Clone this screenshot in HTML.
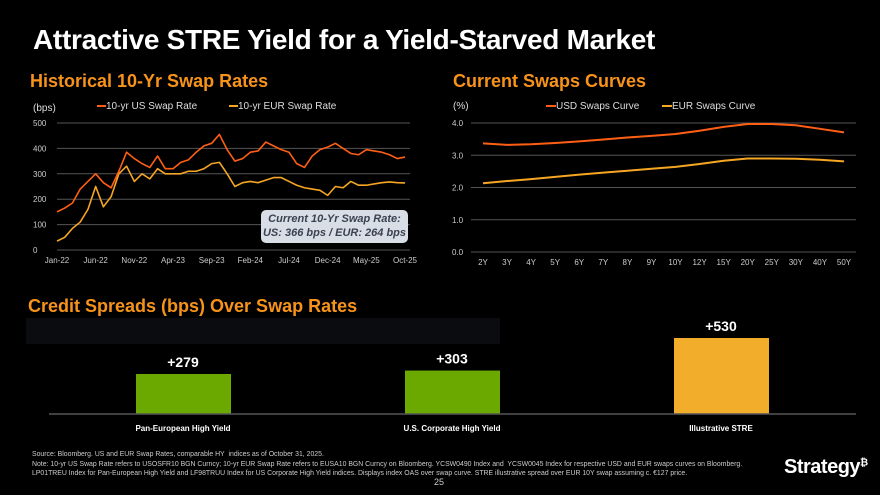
<!DOCTYPE html>
<html><head><meta charset="utf-8"><style>
html,body{margin:0;padding:0;background:#000;}
body{width:880px;height:495px;overflow:hidden;position:relative;font-family:"Liberation Sans",sans-serif;color:#fff;}
.abs{position:absolute;}
</style></head><body>
<div class="abs" style="left:33px;top:24px;font-size:28px;font-weight:bold;letter-spacing:-0.3px;">Attractive STRE Yield for a Yield-Starved Market</div>
<div class="abs" style="left:30px;top:71px;font-size:18px;font-weight:bold;color:#F7931A;">Historical 10-Yr Swap Rates</div>
<div class="abs" style="left:453px;top:71px;font-size:18px;font-weight:bold;color:#F7931A;">Current Swaps Curves</div>
<div class="abs" style="left:28px;top:296px;font-size:18px;font-weight:bold;color:#F7931A;">Credit Spreads (bps) Over Swap Rates</div>
<svg class="abs" style="left:0;top:0" width="880" height="495" id="svg"></svg>
<div class="abs" style="left:261px;top:210px;width:147px;height:31px;background:#d9dde6;border-radius:5px;color:#3a4150;font-size:11px;font-weight:bold;font-style:italic;text-align:center;line-height:14px;padding-top:2px;">Current 10-Yr Swap Rate:<br>US: 366 bps / EUR: 264 bps</div>
<div class="abs" style="left:32px;top:450px;font-size:6.9px;color:#ccc;line-height:9.5px;">Source: Bloomberg. US and EUR Swap Rates, comparable HY&nbsp; indices as of October 31, 2025.<br>Note: 10-yr US Swap Rate refers to USOSFR10 BGN Curncy; 10-yr EUR Swap Rate refers to EUSA10 BGN Curncy on Bloomberg. YCSW0490 Index and&nbsp; YCSW0045 Index for respective USD and EUR swaps curves on Bloomberg.<br>LP01TREU Index for Pan-European High Yield and LF98TRUU Index for US Corporate High Yield indices. Displays index OAS over swap curve. STRE illustrative spread over EUR 10Y swap assuming c. €127 price.</div>
<div class="abs" style="left:434px;top:477px;font-size:9px;color:#ccc;">25</div>
<div class="abs" style="left:784px;top:456px;font-size:20px;font-weight:bold;letter-spacing:-0.5px;">Strategy<sup style="font-size:10px">₿</sup></div>
<script>
const usRates=[150,165,185,240,270,300,265,245,310,385,360,340,325,370,320,320,345,355,385,410,420,455,395,350,360,385,390,425,410,395,385,340,325,370,395,405,420,400,380,375,395,390,385,375,360,366];
const eurRates=[35,50,85,110,160,250,170,210,300,330,270,300,280,320,300,300,300,310,310,320,340,345,300,250,265,270,265,275,285,285,270,255,245,240,235,215,250,245,270,255,255,260,265,268,265,264];
const histTicks=[0,100,200,300,400,500];
const dateLabels=["Jan-22","Jun-22","Nov-22","Apr-23","Sep-23","Feb-24","Jul-24","Dec-24","May-25","Oct-25"];
const tenors=["2Y","3Y","4Y","5Y","6Y","7Y","8Y","9Y","10Y","12Y","15Y","20Y","25Y","30Y","40Y","50Y"];
const usdCurve=[3.37,3.32,3.34,3.38,3.43,3.49,3.55,3.60,3.66,3.76,3.88,3.97,3.97,3.93,3.82,3.71];
const eurCurve=[2.13,2.20,2.26,2.33,2.40,2.46,2.52,2.58,2.64,2.73,2.83,2.90,2.90,2.89,2.86,2.81];
const curveTicks=[0,1,2,3,4];
const spreadCats=["Pan-European High Yield","U.S. Corporate High Yield","Illustrative STRE"];
const spreadVals=[279,303,530];

const NS="http://www.w3.org/2000/svg",svg=document.getElementById('svg');
function mk(t,a,txt){const e=document.createElementNS(NS,t);for(const k in a)e.setAttribute(k,a[k]);if(txt!=null)e.textContent=txt;svg.appendChild(e);return e;}
const US="#FF5F15",EU="#F5A623";
const hx=i=>57+i*(405-57)/(usRates.length-1), hy=v=>250-v*(127/500);
histTicks.forEach(t=>{const g=mk('line',{x1:57,x2:410,y1:hy(t),y2:hy(t),stroke:'#555','stroke-width':1});
const l=mk('text',{x:33,y:hy(t)+3,fill:'#ccc','font-size':8},t);});
dateLabels.forEach((d,i)=>{const l=mk('text',{x:57+i*(405-57)/9,y:263,fill:'#ccc','font-size':8,'text-anchor':'middle'},d);});
[[eurRates,EU,'eur-swap-line'],[usRates,US,'us-swap-line']].forEach(([arr,c,n])=>{const p=mk('polyline',{points:arr.map((v,i)=>hx(i)+','+hy(v)).join(' '),fill:'none',stroke:c,'stroke-width':1.6,'stroke-linejoin':'round'});});
let t=mk('text',{x:33,y:111,fill:'#ddd','font-size':10},'(bps)');
[[97,US,'10-yr US Swap Rate'],[229,EU,'10-yr EUR Swap Rate']].forEach(([x,c,s])=>{const l=mk('line',{x1:x,x2:x+9,y1:106,y2:106,stroke:c,'stroke-width':2});
const tx=mk('text',{x:x+9,y:109,fill:'#ddd','font-size':10},s);});
const cx=i=>483+i*(844-483)/(tenors.length-1), cy=v=>252-v*(129/4);
curveTicks.forEach(t=>{const g=mk('line',{x1:471,x2:856,y1:cy(t),y2:cy(t),stroke:'#555','stroke-width':1});
const l=mk('text',{x:452,y:cy(t)+3,fill:'#ccc','font-size':8},t.toFixed(1));});
tenors.forEach((d,i)=>{const l=mk('text',{x:cx(i),y:265,fill:'#ccc','font-size':8,'text-anchor':'middle'},d);});
[[eurCurve,EU,'eur-curve-line'],[usdCurve,US,'usd-curve-line']].forEach(([arr,c,n])=>{const p=mk('polyline',{points:arr.map((v,i)=>cx(i)+','+cy(v)).join(' '),fill:'none',stroke:c,'stroke-width':2});});
t=mk('text',{x:453,y:109,fill:'#ddd','font-size':10},'(%)');
[[546,US,'USD Swaps Curve'],[662,EU,'EUR Swaps Curve']].forEach(([x,c,s])=>{const l=mk('line',{x1:x,x2:x+10,y1:106,y2:106,stroke:c,'stroke-width':2});
const tx=mk('text',{x:x+10,y:109,fill:'#ddd','font-size':10},s);});
let r=mk('rect',{x:26,y:318,width:474,height:26,fill:'#0b0c0f'});
const by=v=>414-v*(76/530), bcol=["#6BA800","#6BA800","#F2AE2A"];
spreadVals.forEach((v,i)=>{const x=136+i*269;
const b=mk('rect',{x:x,y:by(v),width:95,height:414-by(v),fill:bcol[i]});
const l=mk('text',{x:x+47,y:by(v)-7,fill:'#fff','font-size':14,'font-weight':'bold','text-anchor':'middle'},'+'+v);
const c=mk('text',{x:x+47,y:431,fill:'#fff','font-size':8,'font-weight':'bold','text-anchor':'middle'},spreadCats[i]);});
r=mk('line',{x1:49,x2:856,y1:414,y2:414,stroke:'#555','stroke-width':1.5});
</script>
</body></html>
